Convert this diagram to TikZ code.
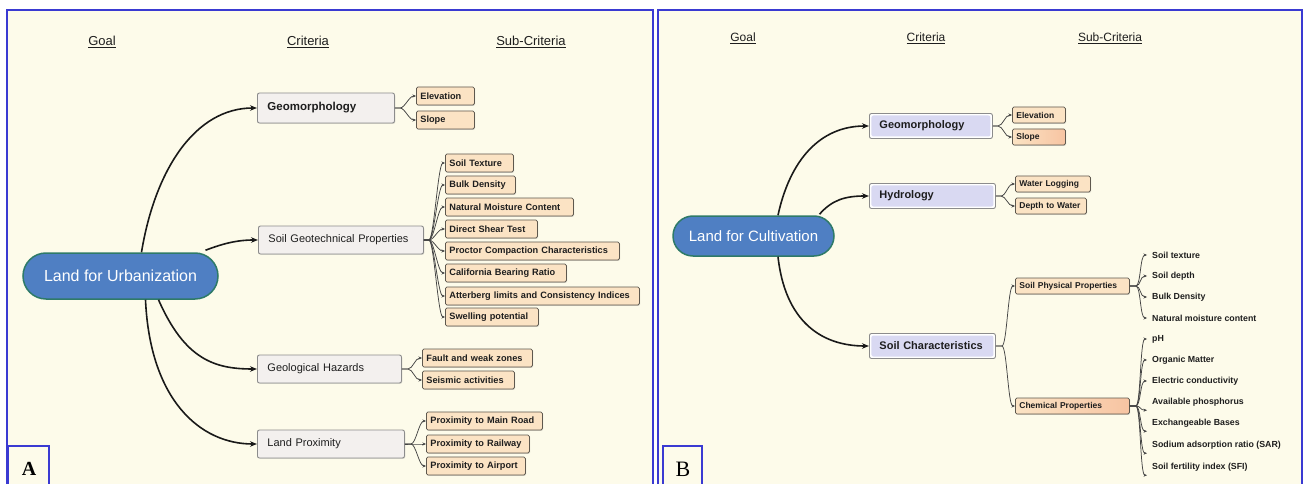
\documentclass[tikz,border=0pt]{standalone}
\usepackage{fontspec}
\setmainfont{Liberation Sans}
\newfontfamily\seriffam{Liberation Serif}
\usetikzlibrary{arrows.meta,shadows}
\definecolor{cream}{HTML}{FDFBEA}
\definecolor{pblue}{HTML}{3A3AD2}
\definecolor{goalfill}{HTML}{4F7FC3}
\definecolor{goaledge}{HTML}{2E7A68}
\definecolor{critfill}{HTML}{F3F0EE}
\definecolor{critedge}{HTML}{8C8C8C}
\definecolor{subfill}{HTML}{FBE3C4}
\definecolor{subedge}{HTML}{5E584E}
\definecolor{lavfill}{HTML}{D9D9F2}
\definecolor{peachdark}{HTML}{F7C4A2}
\definecolor{txt}{HTML}{1E1E1E}
\definecolor{brc}{HTML}{444444}
\newcommand{\brto}[3]{\draw[br] (#1.east) -- ([xshift=#3]#1.east) .. controls ([xshift=#3+5]#1.east) and ([xshift=-7]#2) .. (#2);}
\begin{document}
\begin{tikzpicture}[x=1pt,y=-1pt,
  pframe/.style={draw=pblue,line width=1.6pt},
  hdrA/.style={font=\fontsize{13}{15}\selectfont,text=txt},
  hdrB/.style={font=\fontsize{12}{14}\selectfont,text=txt},
  goalbox/.style={draw=goaledge,line width=1.5pt,fill=goalfill,text=white,rounded corners=#1},
  critA/.style={draw=critedge,fill=critfill,rounded corners=2pt,line width=0.9pt,anchor=west,
     text width=#1,align=left,inner xsep=10pt,minimum height=28pt,
     font=\fontsize{11}{13}\selectfont,text=txt,
     drop shadow={shadow xshift=0.8pt,shadow yshift=-0.8pt,opacity=0.25}},
  critB/.style={draw=critedge,fill=white,rounded corners=2pt,line width=0.9pt,anchor=west,
     text width=#1,align=left,inner xsep=10pt,minimum height=25pt,
     font=\bfseries\fontsize{11}{13}\selectfont,text=txt,
     path picture={\fill[lavfill] ([shift={(2pt,-2pt)}]path picture bounding box.north west) rectangle ([shift={(-2pt,2pt)}]path picture bounding box.south east);}},
  subA/.style={draw=subedge,fill=subfill,rounded corners=1.5pt,line width=0.8pt,anchor=west,
     text width=#1,align=left,inner xsep=4pt,minimum height=18pt,
     font=\bfseries\fontsize{9.2}{11}\selectfont,text=txt,
     drop shadow={shadow xshift=0.8pt,shadow yshift=-0.8pt,opacity=0.3}},
  subB/.style={draw=subedge,fill=subfill,rounded corners=1.5pt,line width=0.8pt,anchor=west,
     text width=#1,align=left,inner xsep=4pt,minimum height=16pt,
     font=\bfseries\fontsize{8.5}{10}\selectfont,text=txt,
     drop shadow={shadow xshift=0.8pt,shadow yshift=-0.8pt,opacity=0.3}},
  leaf/.style={anchor=west,inner xsep=5pt,inner ysep=0pt,minimum height=16pt,
     font=\bfseries\fontsize{8.8}{10}\selectfont,text=txt},
  mainarr/.style={line width=1.6pt,draw=black!90,-{Stealth[length=7pt,width=5.5pt]}},
  br/.style={draw=brc,line width=0.75pt,-{Stealth[length=3.5pt,width=3pt]}},
  lbl/.style={text=black,inner sep=0pt}
]
\useasboundingbox (0,0) rectangle (1307,484);
\fill[white] (0,0) rectangle (1307,484);
\fill[cream] (7,10) rectangle (653,484);
\fill[cream] (658,10) rectangle (1302,484);
\draw[pframe] (7,484) -- (7,10) -- (653,10) -- (653,484);
\draw[pframe] (658,484) -- (658,10) -- (1302,10) -- (1302,484);
\draw[pframe] (8,484) -- (8,446) -- (49,446) -- (49,484);
\draw[pframe] (663,484) -- (663,446) -- (702,446) -- (702,484);
\node[lbl,font=\seriffam\bfseries\fontsize{20}{22}\selectfont] (labA) at (29,469) {A};
\node[lbl,font=\seriffam\fontsize{22}{24}\selectfont] (labB) at (683,469) {B};

% ---------- Panel A ----------
\node[hdrA] (hgA) at (102,42) {\underline{Goal}};
\node[hdrA] (hcA) at (308,42) {\underline{Criteria}};
\node[hdrA] (hsA) at (531,42) {\underline{Sub-Criteria}};

\node[goalbox=23pt,minimum width=195pt,minimum height=46pt,font=\fontsize{16}{18}\selectfont] (goalA) at (120.5,276) {Land for Urbanization};

\node[critA=117pt,font=\bfseries\fontsize{11.5}{13}\selectfont,minimum height=30pt] (geoA) at (257,108) {Geomorphology};
\node[critA=145pt] (soilA) at (258,240) {Soil Geotechnical Properties};
\node[critA=124pt] (ghA) at (257,369) {Geological Hazards};
\node[critA=127pt] (lpA) at (257,444) {Land Proximity};

\node[subA=50pt] (elevA) at (416,96) {Elevation};
\node[subA=50pt] (slopeA) at (416,120) {Slope};

\node[subA=60pt] (s1) at (445,163) {Soil Texture};
\node[subA=62pt] (s2) at (445,185) {Bulk Density};
\node[subA=120pt] (s3) at (445,207) {Natural Moisture Content};
\node[subA=84pt] (s4) at (445,229) {Direct Shear Test};
\node[subA=166pt] (s5) at (445,251) {Proctor Compaction Characteristics};
\node[subA=113pt] (s6) at (445,273) {California Bearing Ratio};
\node[subA=186pt] (s7) at (445,296) {Atterberg limits and Consistency Indices};
\node[subA=85pt] (s8) at (445,317) {Swelling potential};

\node[subA=102pt] (faultA) at (422,358) {Fault and weak zones};
\node[subA=84pt] (seisA) at (422,380) {Seismic activities};

\node[subA=108pt] (roadA) at (426,421) {Proximity to Main Road};
\node[subA=95pt] (railA) at (426,444) {Proximity to Railway};
\node[subA=91pt] (airA) at (426,466) {Proximity to Airport};

\draw[mainarr] ([xshift=21]goalA.north) .. controls (155,170) and (195,108) .. (geoA.west);
\draw[mainarr] ([xshift=85,yshift=2]goalA.north) .. controls (222,244) and (236,240) .. (soilA.west);
\draw[mainarr] ([xshift=38]goalA.south) .. controls (185,360) and (215,369) .. (ghA.west);
\draw[mainarr] ([xshift=25]goalA.south) .. controls (150,400) and (200,444) .. (lpA.west);

\brto{geoA}{elevA.west}{5}
\brto{geoA}{slopeA.west}{5}
\foreach \s in {s1,s2,s3,s4,s5,s6,s7,s8}{\brto{soilA}{\s.west}{5}}
\brto{ghA}{faultA.west}{6}
\brto{ghA}{seisA.west}{6}
\brto{lpA}{roadA.west}{6}
\brto{lpA}{railA.west}{6}
\brto{lpA}{airA.west}{6}

% ---------- Panel B ----------
\node[hdrB] (hgB) at (743,38) {\underline{Goal}};
\node[hdrB] (hcB) at (926,38) {\underline{Criteria}};
\node[hdrB] (hsB) at (1110,38) {\underline{Sub-Criteria}};

\node[goalbox=20pt,minimum width=161pt,minimum height=40pt,font=\fontsize{15}{17}\selectfont] (goalB) at (753.5,236) {Land for Cultivation};

\node[critB=103pt] (geoB) at (869,126) {Geomorphology};
\node[critB=106pt] (hydB) at (869,196) {Hydrology};
\node[critB=106pt] (scB) at (869,346) {Soil Characteristics};

\node[subB=45pt] (elevB) at (1012,115) {Elevation};
\node[subB=45pt,left color=subfill,right color=peachdark] (slopeB) at (1012,137) {Slope};
\node[subB=67pt] (waterB) at (1015,184) {Water Logging};
\node[subB=63pt] (depthB) at (1015,206) {Depth to Water};
\node[subB=106pt] (physB) at (1015,286) {Soil Physical Properties};
\node[subB=106pt,left color=subfill,right color=peachdark] (chemB) at (1015,406) {Chemical Properties};

\node[leaf] (l1) at (1147,255) {Soil texture};
\node[leaf] (l2) at (1147,276) {Soil depth};
\node[leaf] (l3) at (1147,297) {Bulk Density};
\node[leaf] (l4) at (1147,318) {Natural moisture content};
\node[leaf] (l5) at (1147,339) {pH};
\node[leaf] (l6) at (1147,360) {Organic Matter};
\node[leaf] (l7) at (1147,381) {Electric conductivity};
\node[leaf] (l8) at (1147,402) {Available phosphorus};
\node[leaf] (l9) at (1147,423) {Exchangeable Bases};
\node[leaf] (l10) at (1147,445) {Sodium adsorption ratio (SAR)};
\node[leaf] (l11) at (1147,467) {Soil fertility index (SFI)};

\draw[mainarr] ([xshift=24.5]goalB.north) .. controls (790,160) and (820,126) .. (geoB.west);
\draw[mainarr] ([xshift=66,yshift=1]goalB.north) .. controls (832,200) and (845,196) .. (hydB.west);
\draw[mainarr] ([xshift=24.5]goalB.south) .. controls (785,320) and (820,346) .. (scB.west);

\brto{geoB}{elevB.west}{5}
\brto{geoB}{slopeB.west}{5}
\brto{hydB}{waterB.west}{5}
\brto{hydB}{depthB.west}{5}
\brto{scB}{physB.west}{6}
\brto{scB}{chemB.west}{6}
\foreach \s in {l1,l2,l3,l4}{\brto{physB}{\s.west}{6}}
\foreach \s in {l5,l6,l7}{\brto{chemB}{\s.west}{6}}
\foreach \s in {l8,l9,l10,l11}{\brto{chemB}{\s.south west}{6}}
\end{tikzpicture}
\end{document}
